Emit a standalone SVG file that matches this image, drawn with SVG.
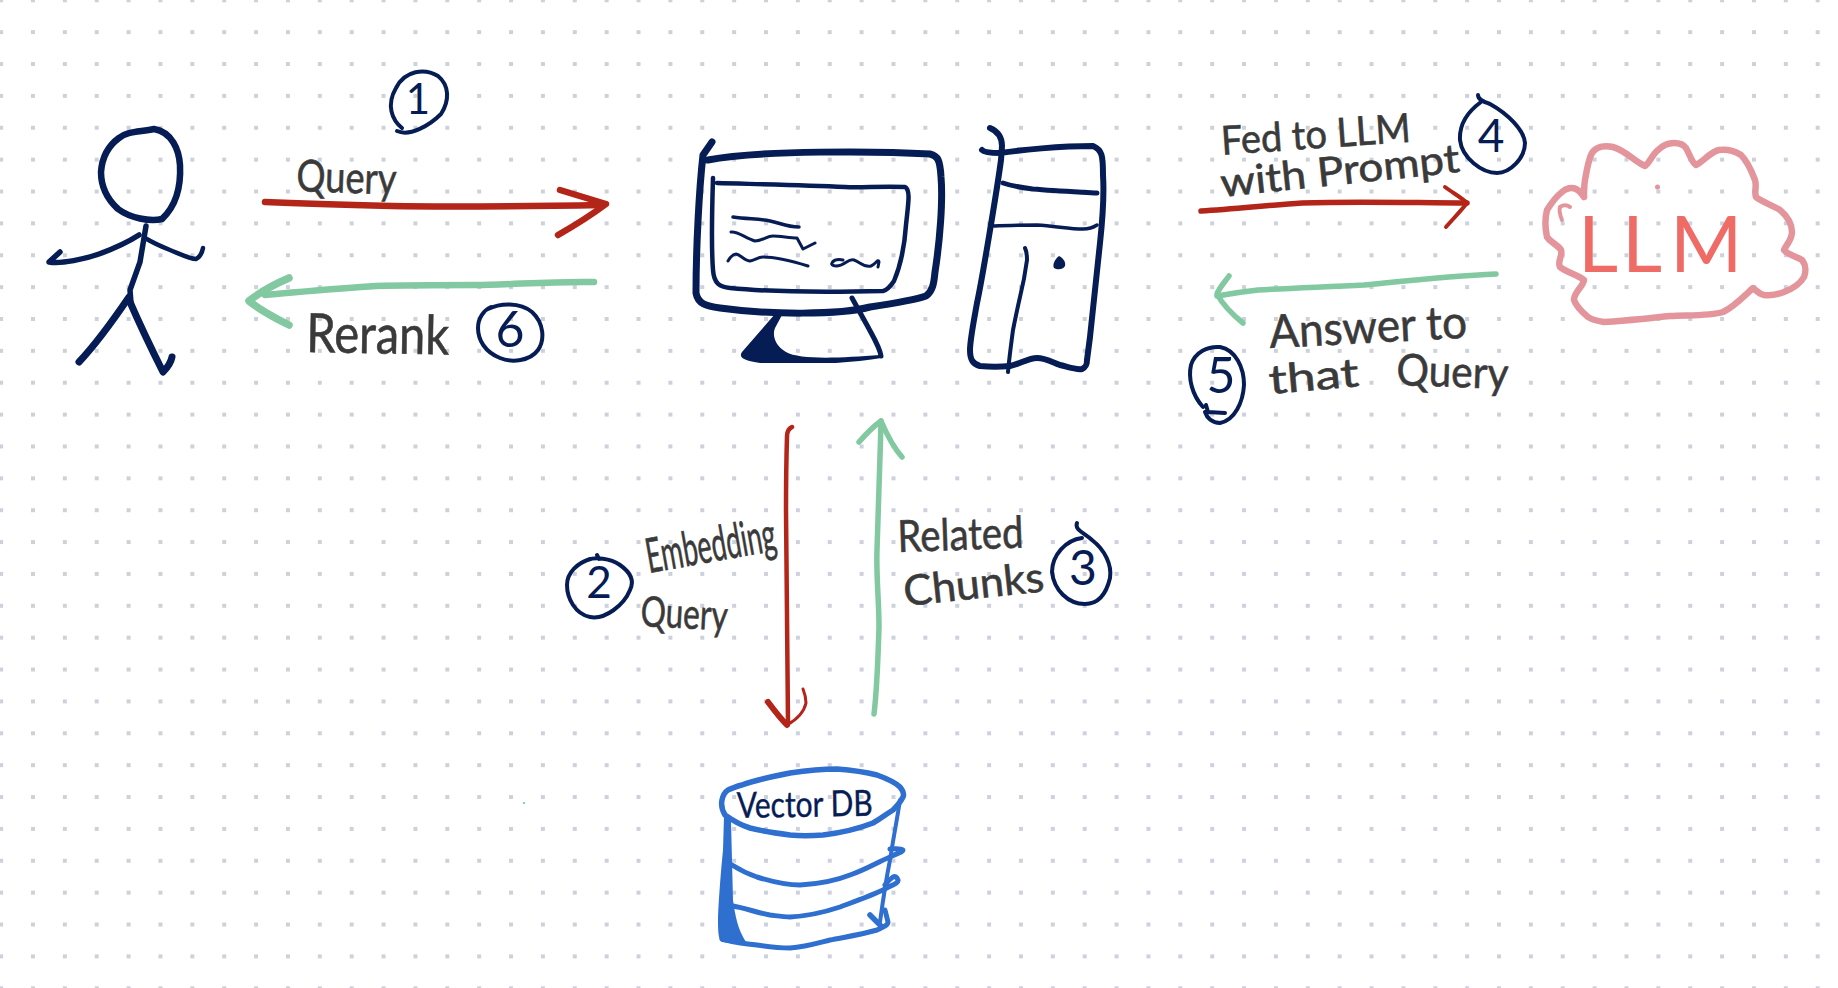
<svg xmlns="http://www.w3.org/2000/svg" width="1838" height="988" viewBox="0 0 1838 988">
<style>
.ink{fill:none;stroke:#061c54;stroke-linecap:round;stroke-linejoin:round}
.red{fill:none;stroke:#b32518;stroke-linecap:round;stroke-linejoin:round}
.grn{fill:none;stroke:#82c8a0;stroke-linecap:round;stroke-linejoin:round}
.blu{fill:none;stroke:#2f6fd0;stroke-linecap:round;stroke-linejoin:round}
.cld{fill:none;stroke:#e4959c;stroke-width:6.5;stroke-linecap:round;stroke-linejoin:round}
text{font-family:"Lato","Liberation Sans",sans-serif}
.lbl{fill:#3a3a3a;stroke:#3a3a3a;stroke-width:.6}
.num{fill:#061c54;text-anchor:middle}
</style>
<defs>
<pattern id="dots" patternUnits="userSpaceOnUse" x="31" y="-1.7" width="31.87" height="31.87"><rect width="4" height="4" fill="#cdd1dc"/></pattern>
</defs>
<rect width="1838" height="988" fill="#fff"/>
<rect width="1838" height="988" fill="url(#dots)"/>
<circle cx="524" cy="803" r="1" fill="#6cb8a0"/>

<g id="user">
<path class="ink" stroke-width="6.5" d="M119 138C127 131 140 132 154 129C172 132 179 150 180 165C181 185 177 205 162 219C150 222 130 218 118 209C106 198 101 186 101 172C102 158 108 146 119 138Z"/>
<path class="ink" stroke-width="5.5" d="M146 226L140 262L130 290L131 303"/>
<path class="ink" stroke-width="5.5" d="M139 235C125 244 110 250 99 254C85 259 62 264 49 262L60 252"/>
<path class="ink" stroke-width="4.5" d="M145 238C155 244 165 248 170 250C180 254 190 259 196 259C200 257 202 253 203 248"/>
<path class="ink" stroke-width="7" d="M129 297C112 322 95 345 79 362"/>
<path class="ink" stroke-width="7" d="M130 302C140 325 152 350 163 372C168 367 171 362 172 357"/>
</g>

<g id="computer">
<g id="monitor">
<path class="ink" stroke-width="7" d="M712 142L703 155C699 190 696 250 696 293C698 304 706 306 720 308C770 315 840 315 870 307C890 304 915 300 926 296C934 290 934 280 935 272C940 240 943 200 941 177C940 160 938 156 930 154C880 151 760 150 708 160"/>
<path class="ink" stroke-width="4.5" d="M713 178C712 210 711 245 713 270C714 284 720 287 730 288C770 292 840 292 883 291C888 290 892 284 894 281C902 262 905 240 906 225C908 205 911 190 905 187C880 186 860 188 845 187C800 185 750 184 717 183"/>
<path class="ink" stroke-width="3.5" d="M733 217C748 219 760 219 770 221C780 223 787 227 799 227"/>
<path class="ink" stroke-width="3" d="M731 232C738 231 745 238 755 241C762 241 767 236 773 236C780 236 790 238 797 238L803 249L815 243"/>
<path class="ink" stroke-width="3" d="M728 261C731 256 733 254 736 254C741 255 745 261 750 261C755 260 758 257 763 257C775 257 795 262 808 266"/>
<path class="ink" stroke-width="3" d="M843 260C832 258 828 266 836 266C845 266 848 258 854 260C860 262 864 268 871 266C876 264 878 258 879 262L878 267"/>
<path fill="#061c54" d="M775 314L742 352C738 358 745 361 760 363L836 363C850 362 870 360 881 358L880 355C840 358 800 360 786 352C775 346 772 335 775 328L782 315Z"/>
<path class="ink" stroke-width="5" d="M852 298L868 327C875 340 880 348 881 356"/>
</g>
<g id="tower">
<path class="ink" stroke-width="6" d="M990 128C997 131 1002 137 1002 146L1001 160C997 190 982 280 977 303C974 320 970 340 970 350C970 360 973 364 980 366C990 367 1000 367 1010 366C1020 364 1028 358 1037 358C1045 358 1052 362 1060 365C1068 367 1076 370 1082 369C1086 367 1087 365 1087 360L1090 337C1094 300 1097 270 1100 243C1103 215 1104 190 1103 175C1103 155 1102 150 1093 146C1060 146 1020 150 1000 153C995 153 985 153 982 150"/>
<path class="ink" stroke-width="5" d="M1003 183C1015 187 1025 188 1033 189C1055 191 1080 192 1097 193"/>
<path class="ink" stroke-width="3.5" d="M994 226C1010 225 1025 225 1037 225C1055 226 1070 229 1083 229C1090 229 1094 227 1097 225"/>
<path class="ink" stroke-width="4" d="M1025 248C1027 252 1027 256 1027 260C1025 275 1023 285 1020 297C1017 310 1015 320 1013 330C1011 345 1009 360 1008 372"/>
<path fill="#061c54" d="M1059 256C1063 258 1066 262 1065 266C1063 270 1057 270 1054 268C1052 265 1055 259 1059 256Z"/>
</g>
</g>

<g id="vector-db">
<path class="blu" stroke-width="5.5" d="M742 785C755 780 770 777 790 773C810 770 825 769 837 769C850 770 865 772 877 775C888 779 895 782 900 787C904 792 904 795 903 797C900 803 897 806 893 810C885 815 880 819 873 823C855 830 840 833 823 835C810 836 800 836 790 835C775 833 762 831 750 828C740 825 732 820 725 815C722 810 721 805 722 800C723 795 725 792 728 790C733 788 737 786 742 785Z"/>
<path class="blu" stroke-width="4" d="M900 800C897 820 893 840 890 860C886 880 883 900 880 922"/>
<path fill="#2f6fd0" d="M724 816L731 821L733 900C735 915 738 930 746 942L758 947L722 942C718 940 718 930 718 917C719 895 721 870 723 850Z"/>
<path class="blu" stroke-width="5" d="M722 939C733 942 745 944 757 945C770 947 780 948 790 948C805 947 818 943 830 940C845 937 860 935 877 930C884 927 888 925 888 922L885 910"/>
<path class="blu" stroke-width="5.5" d="M870 915L881 926"/>
<path class="blu" stroke-width="5" d="M732 865C740 870 748 874 757 877C770 881 785 885 800 885C818 884 835 881 850 875C865 870 878 862 890 857C898 853 903 852 903 850C900 848 895 849 890 849"/>
<path class="blu" stroke-width="5" d="M733 906C745 908 758 913 770 915C778 916 784 917 790 917C808 916 825 912 840 907C856 901 870 896 883 890C892 885 899 883 898 880C897 877 895 876 893 877C890 879 887 882 885 885"/>
<text id="vector-db-label" x="737" y="818" font-size="36" textLength="136" lengthAdjust="spacingAndGlyphs" transform="rotate(-1 737 818)" fill="#061c54" stroke="#061c54" stroke-width=".4">Vector DB</text>
</g>

<g id="llm">
<path class="cld" d="M1584 197C1584 190 1584 186 1585 180C1587 168 1589 158 1592 153C1596 147 1604 145 1613 147C1625 150 1635 162 1645 166C1650 162 1652 155 1658 150C1663 145 1668 143 1674 143C1680 143 1684 145 1686 148C1690 155 1692 163 1696 165C1703 162 1710 152 1719 150C1728 149 1735 151 1741 155C1748 162 1752 172 1755 180C1757 186 1754 192 1756 197C1762 202 1772 205 1780 210C1787 216 1792 224 1792 232C1792 240 1786 245 1784 250C1788 255 1796 256 1802 260C1806 265 1806 272 1804 277C1800 284 1792 289 1784 292C1776 295 1770 296 1764 295C1759 294 1756 290 1753 288C1745 295 1735 306 1723 312C1710 316 1690 315 1670 316C1650 318 1625 321 1604 322C1597 321 1592 320 1588 317C1582 312 1576 306 1574 300C1574 292 1583 287 1584 280C1578 275 1566 272 1560 267C1557 262 1563 255 1561 250C1558 245 1550 242 1547 237C1545 228 1545 218 1547 210C1552 202 1558 195 1562 192C1566 188 1572 187 1576 189C1580 191 1582 194 1584 197"/>
<path class="cld" style="stroke-width:4" d="M1562 220C1560 215 1559 210 1560 207C1563 205 1567 205 1570 207"/>
<circle cx="1657.5" cy="187" r="2.5" fill="#e4959c"/>
<text id="llm-label" x="1578 1622 1670" y="272" font-size="78" fill="#ee6b66">LLM</text>
</g>

<g id="connectors">
<g id="query-arrow" class="red" stroke-width="6.5"><path d="M265 202C310 204 350 205 392 206C450 207 540 206 603 205"/><path d="M560 190L606 204C590 216 572 227 558 235"/></g>
<g id="rerank-arrow" class="grn" stroke-width="6.5"><path d="M594 282C550 281 510 285 475 285C440 285 410 285 376 286C340 288 300 292 265 295"/><path stroke-width="7.5" d="M289 278C275 284 260 292 249 301C260 310 275 318 289 325"/></g>
<g id="embed-arrow" class="red" stroke-width="4.5"><path d="M792 427C788 429 787 432 787 436C786 470 786 490 786 510C786 580 787 650 788 723"/><path stroke-width="6" d="M768 702C774 710 781 719 787 725"/><path stroke-width="3" d="M787 725C796 720 804 712 806 703C806 698 805 694 803 689"/></g>
<g id="chunks-arrow" class="grn" stroke-width="5.5"><path d="M874 714C877 690 878 660 879 627C879 600 876 575 877 550C878 510 880 465 881 421"/><path d="M859 442C866 434 874 426 881 421C887 435 894 448 902 457"/></g>
<g id="prompt-arrow" class="red" stroke-width="5.5"><path d="M1201 211C1235 209 1270 205 1302 203C1360 201 1420 203 1467 203"/><path stroke-width="4" d="M1445 187C1453 193 1462 198 1467 203C1460 212 1452 220 1446 227"/></g>
<g id="answer-arrow" class="grn" stroke-width="5.5"><path d="M1496 274C1450 276 1405 281 1364 285C1325 287 1290 288 1258 290C1240 292 1228 294 1217 296"/><path d="M1229 276C1224 283 1219 288 1217 294C1223 305 1233 315 1243 323"/></g>
</g>

<g id="labels">
<text class="lbl" x="296" y="191" font-size="44" textLength="100" lengthAdjust="spacingAndGlyphs" transform="rotate(2 296 191)">Query</text>
<text class="lbl" x="306" y="352" font-size="54" textLength="143" lengthAdjust="spacingAndGlyphs" transform="rotate(1 306 352)">Rerank</text>
<text class="lbl" x="1222" y="155" font-size="40" textLength="190" lengthAdjust="spacingAndGlyphs" transform="rotate(-4 1222 155)">Fed to LLM</text>
<text class="lbl" x="1222" y="197" font-size="40" textLength="240" lengthAdjust="spacingAndGlyphs" transform="rotate(-6 1222 197)">with Prompt</text>
<text class="lbl" x="1270" y="348" font-size="46" textLength="198" lengthAdjust="spacingAndGlyphs" transform="rotate(-3 1270 348)">Answer to</text>
<text class="lbl" x="1270" y="394" font-size="40" textLength="90" lengthAdjust="spacingAndGlyphs" transform="rotate(-5 1270 394)">that</text>
<text class="lbl" x="1396" y="385" font-size="44" textLength="112" lengthAdjust="spacingAndGlyphs" transform="rotate(2 1396 385)">Query</text>
<text class="lbl" x="649" y="573" font-size="48" textLength="131" lengthAdjust="spacingAndGlyphs" transform="rotate(-10 649 573)">Embedding</text>
<text class="lbl" x="640" y="626" font-size="42" textLength="87" lengthAdjust="spacingAndGlyphs" transform="rotate(3 640 626)">Query</text>
<text class="lbl" x="898" y="552" font-size="44" textLength="126" lengthAdjust="spacingAndGlyphs" transform="rotate(-2 898 552)">Related</text>
<text class="lbl" x="905" y="606" font-size="42" textLength="141" lengthAdjust="spacingAndGlyphs" transform="rotate(-6 905 606)">Chunks</text>
</g>

<g id="step-1"><path class="ink" stroke-width="4" d="M397 131C410 137 430 125 441 114C450 100 449 85 438 76C425 68 405 70 396 88C386 105 392 120 402 128"/><text class="num" x="418" y="114" font-size="42">1</text></g>
<g id="step-2"><path class="ink" stroke-width="4" d="M597 555L599 559M588 560C595 557 610 558 620 565C630 572 635 580 630 590C624 605 605 620 590 617C575 614 567 598 567 585C567 572 578 563 590 559"/><text class="num" x="599" y="598" font-size="44">2</text></g>
<g id="step-3"><path class="ink" stroke-width="4" d="M1077 523C1074 530 1085 533 1092 540C1105 550 1112 565 1110 578C1106 595 1098 604 1085 604C1068 604 1054 590 1052 572C1052 555 1066 540 1082 538"/><text class="num" x="1083" y="585" font-size="48">3</text></g>
<g id="step-4"><path class="ink" stroke-width="4" d="M1478 95C1478 100 1484 102 1490 104C1508 114 1524 130 1525 143C1525 158 1510 173 1497 173C1482 173 1462 158 1460 140C1459 122 1470 110 1481 102"/><text class="num" x="1491" y="152" font-size="46">4</text></g>
<g id="step-5"><path class="ink" stroke-width="4" d="M1203 407C1192 395 1188 378 1191 365C1195 352 1208 346 1220 347C1236 350 1244 368 1244 385C1243 402 1235 420 1220 423C1212 423 1207 418 1205 412M1206 405L1208 412L1225 413"/><text class="num" x="1221" y="393" font-size="50">5</text></g>
<g id="step-6"><path class="ink" stroke-width="4" d="M488 309C500 303 520 302 532 312C544 323 545 340 538 350C530 361 512 363 500 358C485 352 478 340 478 328C478 318 484 310 491 307"/><text class="num" x="510" y="347" font-size="50">6</text></g>
</svg>
